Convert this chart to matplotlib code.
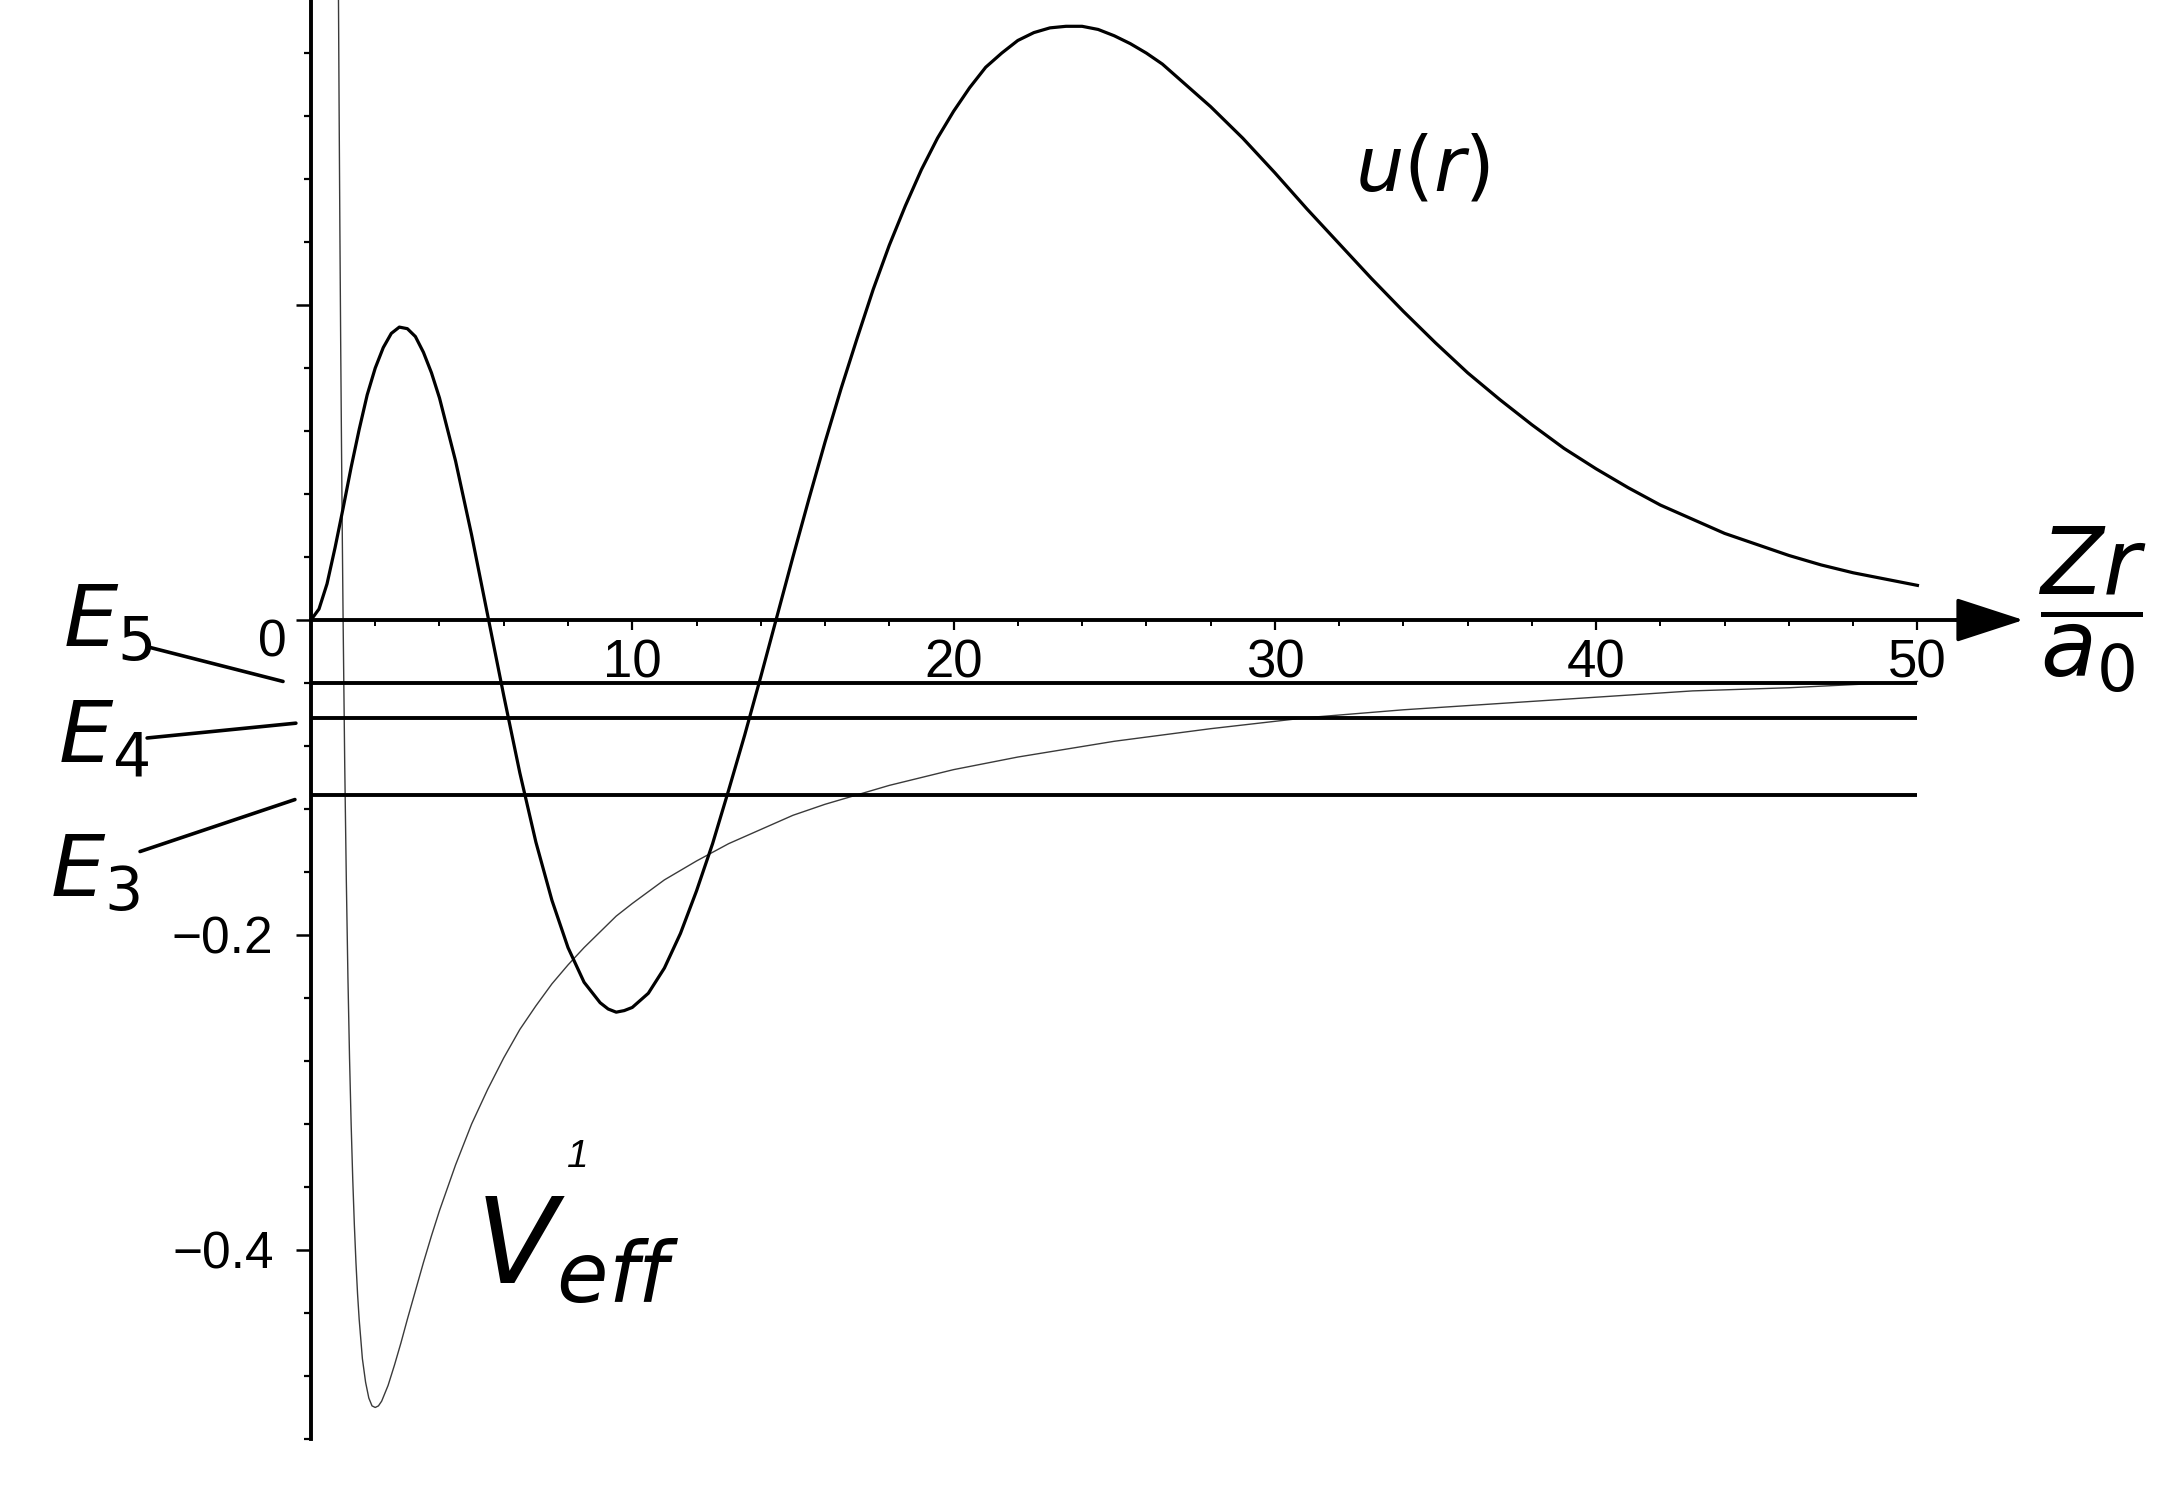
import matplotlib
matplotlib.use("Agg")
import matplotlib.pyplot as plt
from matplotlib.ticker import FixedLocator, FixedFormatter

plt.rcParams['font.family'] = ['Liberation Sans', 'DejaVu Sans']
plt.rcParams['mathtext.fontset'] = 'dejavusans'

# radial function u(r)
r_u = [0, 0.25, 0.5, 0.75, 1, 1.25, 1.5, 1.75, 2, 2.25, 2.5, 2.75, 3, 3.25,
       3.5, 3.75, 4, 4.5, 5, 5.5, 6, 6.5, 7, 7.5, 8, 8.5, 9, 9.25, 9.5, 9.75,
       10, 10.5, 11, 11.5, 12, 12.5, 13, 13.5, 14, 14.5, 15, 15.5, 16, 16.5,
       17, 17.5, 18, 18.5, 19, 19.5, 20, 20.5, 21, 21.5, 22, 22.5, 23, 23.5,
       24, 24.5, 25, 25.5, 26, 26.5, 27, 27.5, 28, 29, 30, 31, 32, 33, 34,
       35, 36, 37, 38, 39, 40, 41, 42, 43, 44, 45, 46, 47, 48, 49, 50]
u_vals = [0, 0.007, 0.023, 0.046, 0.071, 0.097, 0.121, 0.143, 0.160, 0.173,
          0.182, 0.186, 0.185, 0.180, 0.170, 0.157, 0.141, 0.101, 0.054,
          0.003, -0.048, -0.097, -0.141, -0.178, -0.208, -0.230, -0.243,
          -0.247, -0.249, -0.248, -0.246, -0.237, -0.221, -0.199, -0.172,
          -0.142, -0.108, -0.073, -0.036, 0.002, 0.040, 0.077, 0.113, 0.147,
          0.179, 0.210, 0.238, 0.263, 0.286, 0.306, 0.323, 0.338, 0.351,
          0.360, 0.368, 0.373, 0.376, 0.377, 0.377, 0.375, 0.371, 0.366,
          0.360, 0.353, 0.344, 0.335, 0.326, 0.306, 0.284, 0.261, 0.239,
          0.217, 0.196, 0.176, 0.157, 0.140, 0.124, 0.109, 0.096, 0.084,
          0.073, 0.064, 0.055, 0.048, 0.041, 0.035, 0.030, 0.026, 0.022]

# effective potential V_eff (l = 1)
r_v = [0.8, 0.825, 0.85, 0.875, 0.9, 0.925, 0.95, 0.975, 1.0, 1.05, 1.1,
       1.15, 1.2, 1.25, 1.3, 1.35, 1.4, 1.45, 1.5, 1.6, 1.7, 1.8, 1.9, 2.0,
       2.1, 2.2, 2.4, 2.6, 2.8, 3.0, 3.25, 3.5, 3.75, 4, 4.5, 5, 5.5, 6, 6.5,
       7, 7.5, 8, 8.5, 9, 9.5, 10, 11, 12, 13, 14, 15, 16, 18, 20, 22, 25,
       28, 31, 34, 37, 40, 43, 46, 50]
v_vals = [0.625, 0.514, 0.415, 0.327, 0.247, 0.175, 0.111, 0.053, 0.0,
          -0.091, -0.165, -0.227, -0.278, -0.320, -0.355, -0.384, -0.408,
          -0.428, -0.444, -0.469, -0.484, -0.494, -0.499, -0.500, -0.499,
          -0.496, -0.486, -0.473, -0.459, -0.444, -0.426, -0.408, -0.391,
          -0.375, -0.346, -0.320, -0.298, -0.278, -0.260, -0.245, -0.231,
          -0.219, -0.208, -0.198, -0.188, -0.180, -0.165, -0.153, -0.142,
          -0.133, -0.124, -0.117, -0.105, -0.095, -0.087, -0.077, -0.069,
          -0.062, -0.057, -0.053, -0.049, -0.045, -0.043, -0.039]

# energy levels
level_names = ['$E_3$', '$E_4$', '$E_5$']
level_vals = [-0.111, -0.0625, -0.04]

x_major = [10, 20, 30, 40, 50]
x_minor = [2, 4, 6, 8, 12, 14, 16, 18, 22, 24, 26, 28, 32, 34, 36, 38,
           42, 44, 46, 48]
y_major = [-0.4, -0.2, 0, 0.2]
y_major_labels = ['\u22120.4', '\u22120.2', '', '']
y_minor = [-0.52, -0.48, -0.44, -0.36, -0.32, -0.28, -0.24, -0.16, -0.12,
           -0.08, -0.04, 0.04, 0.08, 0.12, 0.16, 0.24, 0.28, 0.32, 0.36]

fig = plt.figure(figsize=(21.6, 15.04), dpi=100)
ax = fig.add_axes([0, 0, 1, 1])
ax.set_xlim(-9.679, 57.55)
ax.set_ylim(-0.5613, 0.3937)

# curves
ax.plot(r_v, v_vals, color='#3a3a3a', lw=1.0)
ax.plot(r_u, u_vals, color='black', lw=2.3)
for e in level_vals:
    ax.plot([0, 50], [e, e], color='black', lw=2.8, solid_capstyle='butt')

# axes through the origin
for side in ['top', 'right']:
    ax.spines[side].set_visible(False)
ax.spines['left'].set_position(('data', 0))
ax.spines['bottom'].set_position(('data', 0))
ax.spines['left'].set_bounds(-0.52, 0.40)
ax.spines['bottom'].set_bounds(0, 51.6)
ax.spines['left'].set_linewidth(2.8)
ax.spines['bottom'].set_linewidth(2.8)
ax.annotate('', xy=(53.3, 0), xytext=(51.2, 0),
            arrowprops=dict(arrowstyle='-|>,head_length=4.3,head_width=1.4',
                            mutation_scale=10, color='black', lw=2.5,
                            shrinkA=0, shrinkB=0))

ax.xaxis.set_major_locator(FixedLocator(x_major))
ax.xaxis.set_minor_locator(FixedLocator(x_minor))
ax.yaxis.set_major_locator(FixedLocator(y_major))
ax.yaxis.set_major_formatter(FixedFormatter(y_major_labels))
ax.yaxis.set_minor_locator(FixedLocator(y_minor))
ax.tick_params(axis='x', which='major', direction='out', length=7, width=1.6,
               labelsize=38, pad=6)
ax.tick_params(axis='x', which='minor', direction='out', length=4, width=1.4)
ax.tick_params(axis='y', which='major', direction='out', length=11, width=1.8,
               labelsize=37, pad=16)
ax.tick_params(axis='y', which='minor', direction='out', length=5, width=1.6)

ax.text(-1.21, -0.0146, '0', fontsize=37, ha='center', va='center')

# hand-written annotations
ax.text(32.5, 0.273, '$u(r)$', fontsize=55, ha='left', va='baseline')
ax.text(5.1, -0.421, '$V_{eff}$', fontsize=86, ha='left', va='baseline')
ax.text(8.3, -0.341, '1', fontsize=28, ha='center', va='center',
        style='italic')
ax.text(55.46, 0.0063, r'$\dfrac{Zr}{a_0}$', fontsize=66,
        ha='center', va='center')

label_pos = [(-8.12, -0.1759), (-7.87, -0.0908), (-7.72, -0.0171)]
leader_start = [(-5.32, -0.036), (-5.10, -0.0124), (-5.07, 0.0229)]
leader_end = [(-0.50, -0.003), (-0.47, -0.003), (-0.87, 0.001)]
for name, e, pos, s, t in zip(level_names, level_vals, label_pos,
                              leader_start, leader_end):
    ax.text(pos[0], pos[1], name, fontsize=62, ha='left', va='baseline')
    ax.annotate('', xy=(t[0], e + t[1]), xytext=(s[0], e + s[1]),
                arrowprops=dict(arrowstyle='-', color='black', lw=2.6,
                                shrinkA=0, shrinkB=0))

fig.savefig('out.png', dpi=100)
